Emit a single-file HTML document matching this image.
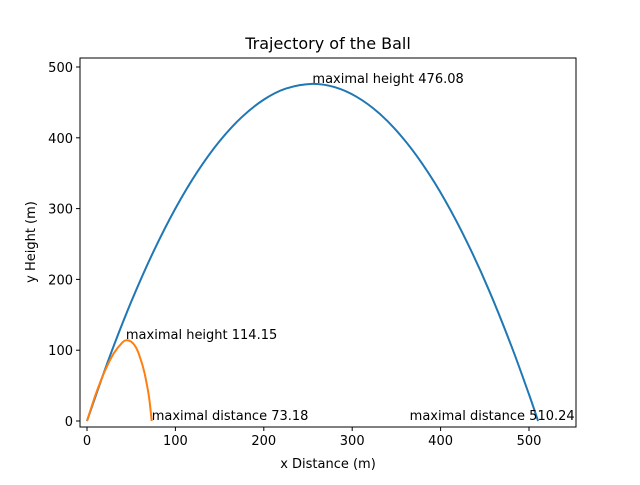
<!DOCTYPE html>
<html><head><meta charset="utf-8"><style>
body{margin:0;background:#fff}
svg{font-family:"DejaVu Sans","Liberation Sans",sans-serif}
</style></head><body>
<svg id="chart" width="640" height="480">
<rect width="640" height="480" fill="#fff"/>
<g id="plot"></g>
</svg>
<script>
const xTicks=[0,100,200,300,400,500];
const yTicks=[0,100,200,300,400,500];
const blueX=[0,25,50,75,100,125,150,175,200,225,255,280,305,330,355,380,405,430,455,480,500,510.24];
const blueY=[0,88.7,168.3,238.8,300.1,352.3,395.3,429.1,453.9,469.5,476.08,471.6,457.9,435.1,403.1,362.0,311.8,252.4,183.9,106.2,37.5,0];
const orangeX=[0,10,20,30,40,45,50,55,60,65,70,73.18];
const orangeY=[0,38,70,95,111,114.15,112,105,90,68,35,0];
const annX=[255,44,73.18,365];
const annY=[476.08,114.15,0,0];
const annText=["maximal height 476.08","maximal height 114.15","maximal distance 73.18","maximal distance 510.24"];
const L=80,R=576,T=58,B=427;
const sx=v=>87+v*0.884, sy=v=>421-v*0.708;
const g=document.getElementById('plot'),NS='http://www.w3.org/2000/svg';
function mk(t,a,txt){const e=document.createElementNS(NS,t);for(const k in a)e.setAttribute(k,a[k]);if(txt!=null)e.textContent=txt;g.appendChild(e);return e;}
function series(xs,ys,c,n){
const P=xs.map((x,i)=>[sx(x),sy(ys[i])]);
let d='M'+P[0][0].toFixed(1)+','+P[0][1].toFixed(1);
for(let i=0;i<P.length-1;i++){
const p0=P[Math.max(0,i-1)],p1=P[i],p2=P[i+1],p3=P[Math.min(P.length-1,i+2)];
const c1=[p1[0]+(p2[0]-p0[0])/6,p1[1]+(p2[1]-p0[1])/6];
const c2=[p2[0]-(p3[0]-p1[0])/6,p2[1]-(p3[1]-p1[1])/6];
d+='C'+c1[0].toFixed(1)+','+c1[1].toFixed(1)+' '+c2[0].toFixed(1)+','+c2[1].toFixed(1)+' '+p2[0].toFixed(1)+','+p2[1].toFixed(1);}
const p=mk('path',{d:d,fill:'none',stroke:c,'stroke-width':2});

}
series(blueX,blueY,'#1f77b4','blue-trajectory');
series(orangeX,orangeY,'#ff7f0e','orange-trajectory');
const fr=mk('rect',{x:L,y:T,width:R-L,height:B-T,fill:'none',stroke:'#000','stroke-width':1});


xTicks.forEach(v=>{const x=sx(v);mk('line',{x1:x,x2:x,y1:B,y2:B+4,stroke:'#000'});
const t=mk('text',{x:x,y:B+18,'font-size':13,'text-anchor':'middle'},v);

});
yTicks.forEach(v=>{const y=sy(v);mk('line',{x1:L-4,x2:L,y1:y,y2:y,stroke:'#000'});
const t=mk('text',{x:L-7,y:y+5,'font-size':13,'text-anchor':'end'},v);

});
annText.forEach((s,i)=>{const t=mk('text',{x:sx(annX[i]),y:sy(annY[i])-1,'font-size':13},s);

});
let t=mk('text',{x:328,y:49,'font-size':16,'text-anchor':'middle'},'Trajectory of the Ball');


t=mk('text',{x:328,y:468,'font-size':13,'text-anchor':'middle'},'x Distance (m)');


t=mk('text',{x:0,y:0,'font-size':13,'text-anchor':'middle',transform:'translate(35,242) rotate(-90)'},'y Height (m)');


</script>
</body></html>
